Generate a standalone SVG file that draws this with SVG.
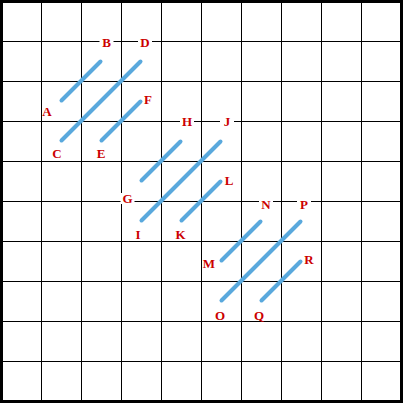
<svg xmlns="http://www.w3.org/2000/svg" width="403" height="403" viewBox="0 0 403 403">
<style>
.grid{stroke:#000;stroke-width:1;fill:none}
.border{stroke:#000;stroke-width:3;fill:none}
.stitch{stroke:#5aa9dd;stroke-width:4;stroke-linecap:round;fill:none}
.lbl text{font-family:"Liberation Serif","Times New Roman",serif;font-weight:bold;font-size:13px;fill:#cc0000;text-anchor:middle}
.lbl rect{fill:#fff}
</style>
<rect x="0" y="0" width="403" height="403" fill="#fff"/>
<g id="grid" class="grid">
<path d="M41.5 0V403M81.5 0V403M121.5 0V403M161.5 0V403M201.5 0V403M241.5 0V403M281.5 0V403M321.5 0V403M361.5 0V403"/>
<path d="M0 41.5H403M0 81.5H403M0 121.5H403M0 161.5H403M0 201.5H403M0 241.5H403M0 281.5H403M0 321.5H403M0 361.5H403"/>
</g>
<rect class="border" x="1.5" y="1.5" width="400" height="400"/>
<g id="connectors" class="stitch">
<line x1="61.5" y1="100.5" x2="100.5" y2="61.5"/>
<line x1="61.5" y1="140.5" x2="140.5" y2="61.5"/>
<line x1="101.5" y1="140.5" x2="140.5" y2="101.5"/>
<line x1="141.5" y1="180.5" x2="180.5" y2="141.5"/>
<line x1="141.5" y1="220.5" x2="220.5" y2="141.5"/>
<line x1="181.5" y1="220.5" x2="220.5" y2="181.5"/>
<line x1="221.5" y1="260.5" x2="260.5" y2="221.5"/>
<line x1="221.5" y1="300.5" x2="300.5" y2="221.5"/>
<line x1="261.5" y1="300.5" x2="300.5" y2="261.5"/>
</g>
<g class="lbl">
<g id="B"><rect x="99.5" y="37" width="14" height="11"/><text x="106.5" y="47">B</text></g>
<g id="D"><rect x="138" y="37" width="14" height="11"/><text x="145" y="47">D</text></g>
<g id="A"><text x="47" y="116">A</text></g>
<g id="F"><text x="148" y="104">F</text></g>
<g id="C"><text x="57" y="157.5">C</text></g>
<g id="E"><text x="101" y="157.5">E</text></g>
<g id="H"><rect x="180" y="116" width="14" height="11"/><text x="187" y="126">H</text></g>
<g id="J"><rect x="220" y="116" width="14" height="11"/><text x="227" y="126">J</text></g>
<g id="G"><rect x="120.5" y="193" width="14" height="11"/><text x="127.5" y="203">G</text></g>
<g id="L"><text x="229" y="185">L</text></g>
<g id="I"><text x="138" y="239">I</text></g>
<g id="K"><text x="180.5" y="239">K</text></g>
<g id="N"><rect x="259" y="199" width="14" height="11"/><text x="266" y="209">N</text></g>
<g id="P"><rect x="297" y="199" width="14" height="11"/><text x="304" y="209">P</text></g>
<g id="M"><text x="209" y="268">M</text></g>
<g id="R"><text x="309" y="264">R</text></g>
<g id="O"><text x="220" y="320">O</text></g>
<g id="Q"><text x="259" y="320">Q</text></g>
</g>
</svg>
